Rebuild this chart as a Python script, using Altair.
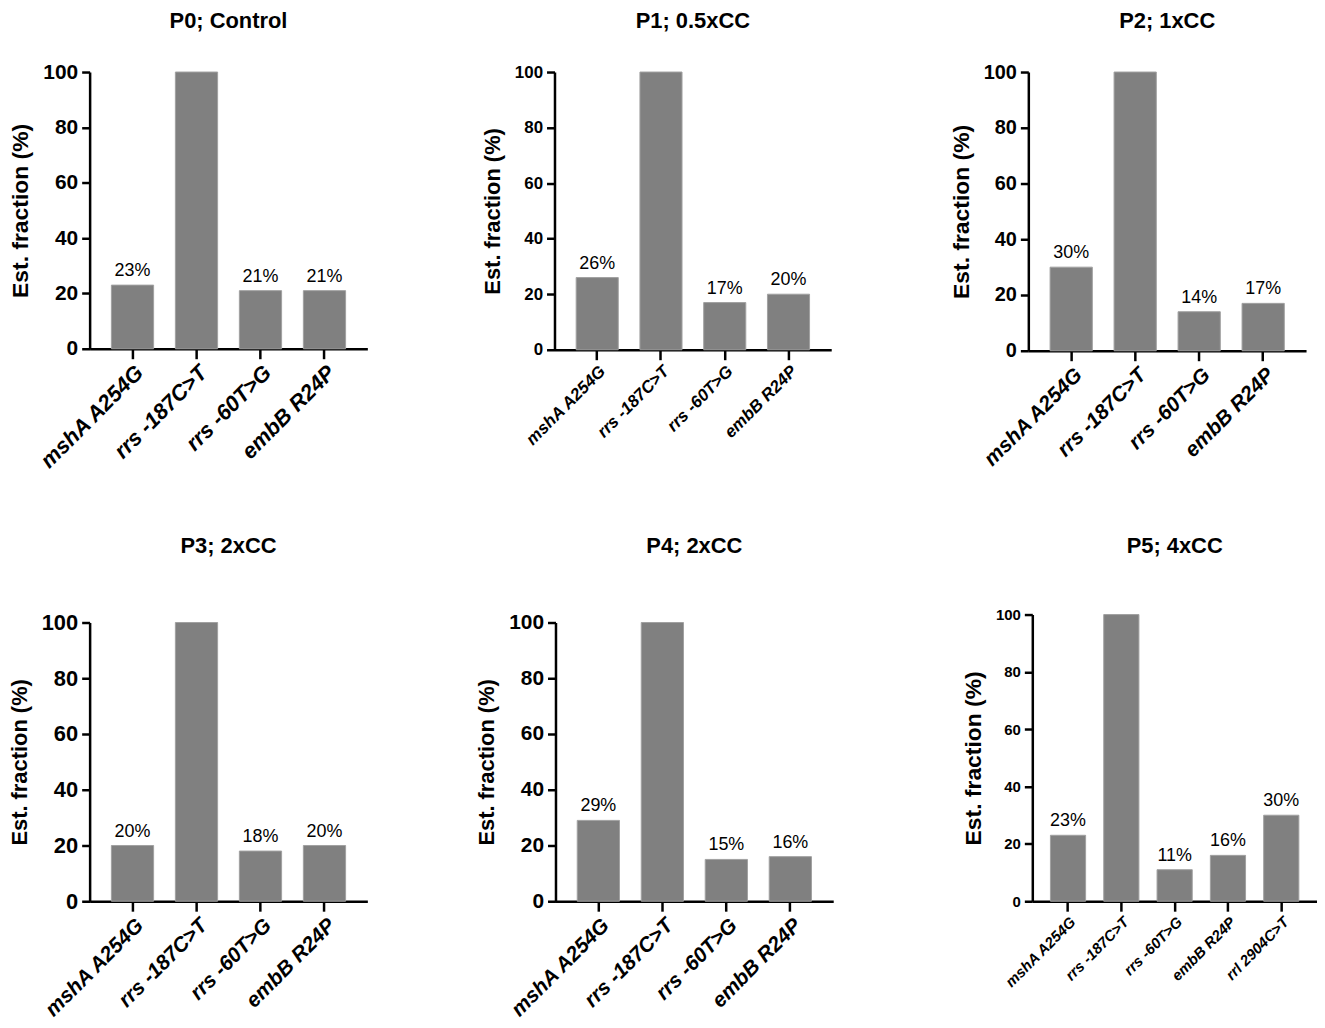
import altair as alt
import pandas as pd

FONT = "Liberation Sans"

cats4 = ["mshA A254G", "rrs -187C>T", "rrs -60T>G", "embB R24P"]
cats5 = ["mshA  A254G", "rrs  -187C>T", "rrs  -60T>G", "embB  R24P", "rrl  2904C>T"]

titles = ["P0; Control", "P1; 0.5xCC", "P2; 1xCC", "P3; 2xCC", "P4; 2xCC", "P5; 4xCC"]

p0_vals = [23, 100, 21, 21]
p1_vals = [26, 100, 17, 20]
p2_vals = [30, 100, 14, 17]
p3_vals = [20, 100, 18, 20]
p4_vals = [29, 100, 15, 16]
p5_vals = [23, 100, 11, 16, 30]

y_ticks = [0, 20, 40, 60, 80, 100]
y_title = "Est. fraction (%)"


def panel(title, cats, vals, w, h, tick_fs, ytitle_fs, xlab_fs, pct_fs,
          xlab_weight="bold", title_offset=16, y_extra=0):
    df = pd.DataFrame({
        "cat": cats,
        "val": vals,
        "lab": ["" if v == 100 else f"{v}%" for v in vals],
    })
    x = alt.X("cat:N", sort=cats, title=None,
              scale=alt.Scale(paddingInner=0.34, paddingOuter=0.34),
              axis=alt.Axis(labelAngle=-45, labelFont=FONT, labelFontSize=xlab_fs,
                            labelFontWeight=xlab_weight, labelFontStyle="italic",
                            labelColor="black", domainColor="black", domainWidth=2.5,
                            tickColor="black", tickWidth=2.5, tickSize=10,
                            labelPadding=3, labelLimit=300))
    yscale = alt.Scale(domain=[0, 100], nice=False)
    if y_extra:
        yscale = alt.Scale(domain=[0, 100], nice=False, range=[h, -y_extra])
    y = alt.Y("val:Q", title=y_title, scale=yscale,
              axis=alt.Axis(values=y_ticks, grid=False, labelFont=FONT,
                            labelFontSize=tick_fs, labelFontWeight="bold",
                            labelColor="black", titleFont=FONT, titleFontSize=ytitle_fs,
                            titleFontWeight="bold", titleColor="black",
                            domainColor="black", domainWidth=2.5, tickColor="black",
                            tickWidth=2.5, tickSize=8, labelPadding=4, titlePadding=10))
    bars = alt.Chart(df).mark_bar(color="#808080", stroke="#a0a0a0", strokeWidth=1,
                                  clip=False).encode(x=x, y=y)
    text = alt.Chart(df).mark_text(baseline="bottom", dy=-5, font=FONT, fontSize=pct_fs,
                                   color="black").encode(
        x=alt.X("cat:N", sort=cats), y=alt.Y("val:Q"), text="lab:N")
    return alt.layer(bars, text).properties(
        width=w, height=h,
        view=alt.ViewBackground(stroke="transparent", strokeWidth=0),
        title=alt.TitleParams(title, font=FONT, fontSize=22, fontWeight="bold",
                              color="black", anchor="middle", offset=title_offset))


p0 = panel(titles[0], cats4, p0_vals, 279, 278, 21, 23, 22, 18, title_offset=16)
p1 = panel(titles[1], cats4, p1_vals, 278, 279, 17, 22, 17, 18, title_offset=16)
p2 = panel(titles[2], cats4, p2_vals, 279, 280, 20, 23, 21, 18, title_offset=16)
p3 = panel(titles[3], cats4, p3_vals, 279, 280, 22, 22, 21, 18, title_offset=42)
p4 = panel(titles[4], cats4, p4_vals, 279, 280, 21, 22, 21, 18, title_offset=42)
p5 = panel(titles[5], cats5, p5_vals, 286, 280, 15, 23, 15, 18, title_offset=34, y_extra=8)

row1 = alt.hconcat(alt.hconcat(p0, p1, spacing=114), p2, spacing=119)
row2 = alt.hconcat(alt.hconcat(p3, p4, spacing=108), p5, spacing=129)

chart = alt.vconcat(row1, row2, spacing=62).configure_view(
    stroke="transparent", strokeWidth=0).configure(padding=0, background="white")

chart.save("out.html", embed_options={"renderer": "svg", "actions": False})
